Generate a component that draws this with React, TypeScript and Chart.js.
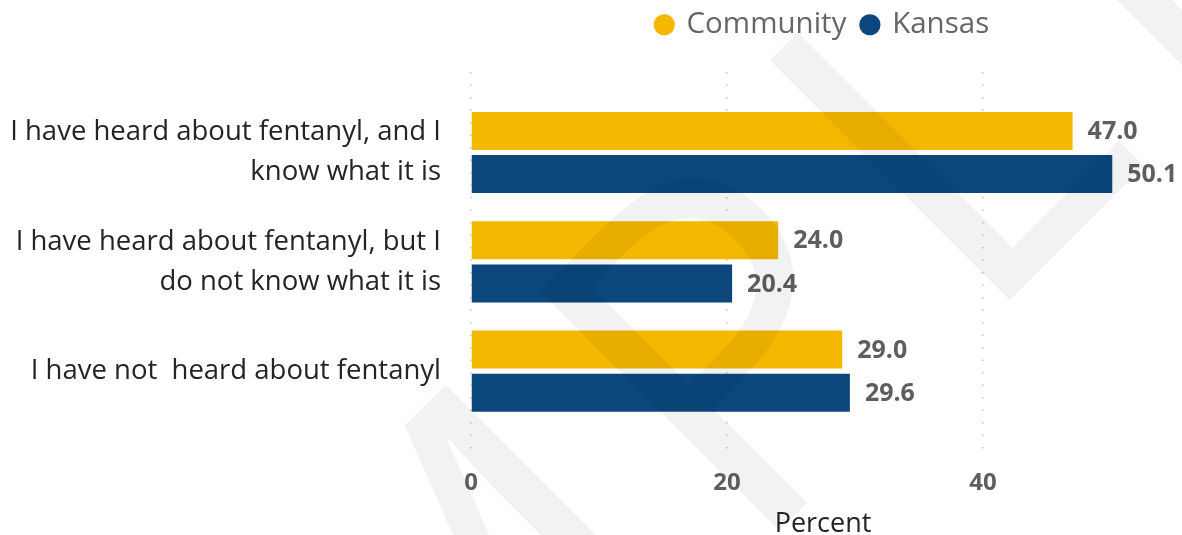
import React, { useEffect, useRef } from "react";
import { Chart, registerables } from "chart.js";

Chart.register(...registerables);

const categories: string[][] = [
  ["I have heard about fentanyl, and I", "know what it is"],
  ["I have heard about fentanyl, but I", "do not know what it is"],
  ["I have not  heard about fentanyl"],
];
const communityValues = [47.0, 24.0, 29.0];
const kansasValues = [50.1, 20.4, 29.6];
const xTickValues = [0, 20, 40];
const seriesNames = ["Community", "Kansas"];
const seriesColors = ["#F4B800", "#0B477D"];
const watermarkText = "SAMPLE";

const FONT = "'Open Sans', 'Noto Sans', sans-serif";

const legendToPlotPlugin = {
  id: "legendToPlot",
  beforeLayout(chart: any) {
    const lg = chart.legend;
    if (lg && !lg._fixedHeight) {
      const orig = lg.fit.bind(lg);
      lg.fit = function () {
        orig();
        this.height = 78;
      };
      lg._fixedHeight = true;
    }
  },
  beforeDraw(chart: any) {
    if (chart.legend && chart.chartArea) {
      chart.legend.left = chart.chartArea.left;
      chart.legend.right = chart.chartArea.right;
    }
  },
};

const valueLabelPlugin = {
  id: "valueLabels",
  afterDatasetsDraw(chart: any) {
    const ctx = chart.ctx;
    ctx.save();
    ctx.font = `bold 25px ${FONT}`;
    ctx.fillStyle = "#5E5E5E";
    ctx.textAlign = "left";
    ctx.textBaseline = "middle";
    chart.data.datasets.forEach((ds: any, di: number) => {
      const meta = chart.getDatasetMeta(di);
      meta.data.forEach((bar: any, i: number) => {
        const v = ds.data[i];
        ctx.fillText(Number(v).toFixed(1), bar.x + 15, bar.y + 1);
      });
    });
    ctx.restore();
  },
};

const watermarkPlugin = {
  id: "watermark",
  afterDraw(chart: any) {
    const ctx = chart.ctx;
    ctx.save();
    const size = 475;
    ctx.font = `normal ${size}px ${FONT}`;
    (ctx as any).letterSpacing = "40px";
    const pre = ctx.measureText(watermarkText.slice(0, 4)).width;
    const lsb = 0.09 * size;
    ctx.translate(chart.width * 0.852, chart.height * 0.566);
    ctx.rotate(-Math.PI / 4);
    ctx.fillStyle = "rgba(0,0,0,0.05)";
    ctx.textBaseline = "alphabetic";
    ctx.textAlign = "left";
    ctx.fillText(watermarkText, -(pre + lsb), 0);
    ctx.restore();
  },
};

export default function App() {
  const canvasRef = useRef<HTMLCanvasElement | null>(null);

  useEffect(() => {
    document.body.style.margin = "0";
    const canvas = canvasRef.current;
    if (!canvas) return;
    const chart = new Chart(canvas, {
      type: "bar",
      data: {
        labels: categories,
        datasets: [
          {
            label: seriesNames[0],
            data: communityValues,
            backgroundColor: seriesColors[0],
            borderWidth: 0,
            barPercentage: 0.88,
            categoryPercentage: 0.79,
          },
          {
            label: seriesNames[1],
            data: kansasValues,
            backgroundColor: seriesColors[1],
            borderWidth: 0,
            barPercentage: 0.88,
            categoryPercentage: 0.79,
          },
        ],
      },
      options: {
        indexAxis: "y",
        animation: false,
        responsive: true,
        maintainAspectRatio: false,
        layout: { padding: { left: 0, right: 7, top: -6, bottom: 0 } },
        plugins: {
          tooltip: { enabled: false },
          legend: {
            display: true,
            position: "top",
            align: "center",
            labels: {
              usePointStyle: true,
              pointStyle: "circle",
              boxWidth: 15,
              boxHeight: 15,
              padding: 16,
              color: "#666666",
              font: { family: FONT, size: 29.5 },
            },
          },
        },
        scales: {
          x: {
            type: "linear",
            min: 0,
            max: 55,
            afterBuildTicks(scale: any) {
              scale.ticks = xTickValues.map((v) => ({ value: v }));
            },
            afterFit(scale: any) {
              scale.height = 77;
            },
            grid: {
              color: "#C4C4C4",
              lineWidth: 1.5,
              drawTicks: false,
            },
            border: { display: false, dash: [1.5, 11] },
            ticks: {
              padding: 11,
              color: "#5E5E5E",
              font: { family: FONT, size: 24, weight: "bold" },
            },
            title: {
              display: true,
              text: "Percent",
              color: "#252423",
              font: { family: FONT, size: 27 },
              padding: { top: 0, bottom: -6 },
            },
          },
          y: {
            type: "category",
            afterBuildTicks(scale: any) {
              scale._startValue = -0.736;
              scale._valueRange = 3.53;
            },
            afterFit(scale: any) {
              scale.width = 471;
            },
            grid: { display: false, drawTicks: false },
            border: { display: false },
            ticks: {
              padding: 30,
              color: "#252423",
              font: { family: FONT, size: 27.5, lineHeight: 1.46 },
            },
          },
        },
      },
      plugins: [legendToPlotPlugin, valueLabelPlugin, watermarkPlugin],
    } as any);
    return () => chart.destroy();
  }, []);

  return (
    <div style={{ width: 1182, height: 535, position: "relative" }}>
      <canvas ref={canvasRef} />
    </div>
  );
}
